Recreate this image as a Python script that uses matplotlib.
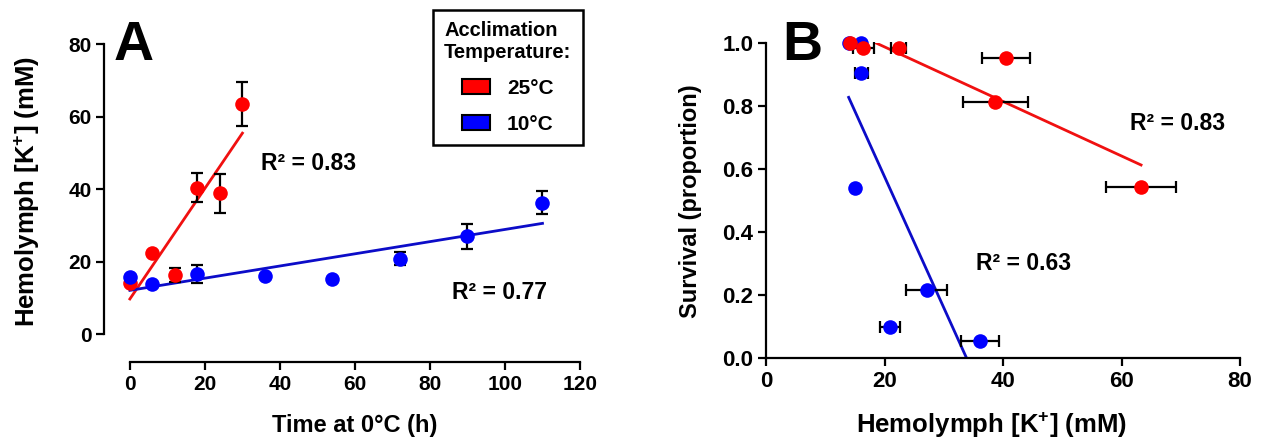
import numpy as np
import matplotlib
matplotlib.use("Agg")
import matplotlib.pyplot as plt
from matplotlib.patches import Patch

plt.rcParams['font.family'] = ['Liberation Sans', 'DejaVu Sans']
plt.rcParams['font.weight'] = 'bold'
plt.rcParams['mathtext.fontset'] = 'custom'
plt.rcParams['mathtext.rm'] = 'Liberation Sans:bold'
plt.rcParams['mathtext.bf'] = 'Liberation Sans:bold'
plt.rcParams['mathtext.default'] = 'bf'

# ---- Panel A data: hemolymph K+ vs time at 0 C ----
a_time_25 = [0, 6, 12, 18, 24, 30]
a_k_25 = [14.1, 22.3, 16.3, 40.4, 38.8, 63.4]
a_err_25 = [0, 0, 1.8, 3.9, 5.4, 6.0]

a_time_10 = [0, 6, 18, 36, 54, 72, 90, 110]
a_k_10 = [15.7, 13.8, 16.6, 16.1, 15.1, 20.8, 27.0, 36.2]
a_err_10 = [0, 0, 2.4, 0, 0, 1.8, 3.4, 3.2]

# ---- Panel B data: survival vs hemolymph K+ ----
b_k_25 = [14.2, 16.4, 22.4, 40.5, 38.7, 63.3]
b_surv_25 = [1.0, 0.984, 0.984, 0.952, 0.815, 0.543]
b_kerr_25 = [0, 1.8, 1.3, 4.0, 5.5, 5.9]

b_k_10 = [13.95, 16.1, 16.1, 15.1, 27.1, 20.9, 36.1]
b_surv_10 = [1.0, 1.0, 0.905, 0.540, 0.217, 0.098, 0.055]
b_kerr_10 = [0, 0, 1.1, 0, 3.4, 1.7, 3.2]

a_xticks = [0, 20, 40, 60, 80, 100, 120]
a_yticks = [0, 20, 40, 60, 80]
b_xticks = [0, 20, 40, 60, 80]
b_yticks = [0.0, 0.2, 0.4, 0.6, 0.8, 1.0]

r2_labels = ['R² = 0.83', 'R² = 0.77', 'R² = 0.83', 'R² = 0.63']

RED = '#ff0000'
BLUE = '#0000ff'
RED_LINE = '#f01010'
BLUE_LINE = '#0c0cc8'

W, H = 1262, 442
fig = plt.figure(figsize=(W / 100, H / 100), dpi=100)

LABEL_FS = 17
HEMO_FS = 18.5
R2_FS = 16.5

def style_axes(ax, fs):
    for s in ['top', 'right']:
        ax.spines[s].set_visible(False)
    for s in ['left', 'bottom']:
        ax.spines[s].set_linewidth(1.6)
    ax.tick_params(width=1.6, length=5.5, labelsize=fs, direction='out')
    for lab in ax.get_xticklabels() + ax.get_yticklabels():
        lab.set_fontweight('bold')

def ebar(ax, x, y, xerr=None, yerr=None):
    x = np.asarray(x, float); y = np.asarray(y, float)
    err = np.asarray(xerr if xerr is not None else yerr, float)
    m = err > 0
    kw = dict(fmt='none', ecolor='black', elinewidth=1.6, capsize=4.5,
              capthick=1.6, zorder=3, clip_on=False)
    if xerr is not None:
        ax.errorbar(x[m], y[m], xerr=err[m], **kw)
    else:
        ax.errorbar(x[m], y[m], yerr=err[m], **kw)

# ================= Panel A =================
axA = fig.add_axes([104 / W, 1 - 362 / H, (580 - 104) / W, (362 - 44) / H])
axA.set_xlim(-6.9, 120)
axA.set_ylim(-7.7, 80)
axA.spines['bottom'].set_bounds(0, 120)
axA.spines['left'].set_bounds(0, 80)
axA.set_xticks(a_xticks)
axA.set_yticks(a_yticks)

for xs, ys, col in [(a_time_25, a_k_25, RED_LINE), (a_time_10, a_k_10, BLUE_LINE)]:
    p = np.polyfit(xs, ys, 1)
    xx = np.array([min(xs), max(xs)])
    axA.plot(xx, np.polyval(p, xx), color=col, lw=2.0, zorder=2)

ebar(axA, a_time_25, a_k_25, yerr=a_err_25)
ebar(axA, a_time_10, a_k_10, yerr=a_err_10)
axA.plot(a_time_25, a_k_25, 'o', color=RED, ms=10.5, mec='none', zorder=4, clip_on=False)
axA.plot(a_time_10, a_k_10, 'o', color=BLUE, ms=10.5, mec='none', zorder=5, clip_on=False)

axA.set_xlabel('Time at 0°C (h)', fontsize=LABEL_FS, fontweight='bold')
axA.set_ylabel(r'Hemolymph [K$^{+}$] (mM)', fontsize=HEMO_FS, fontweight='bold')
axA.xaxis.set_label_coords(0.527, -0.165)
axA.yaxis.set_label_coords(-0.13, 0.535)
style_axes(axA, 15)

axA.text(35, 47, r2_labels[0], fontsize=R2_FS, fontweight='bold', ha='left', va='center')
axA.text(86, 11.5, r2_labels[1], fontsize=R2_FS, fontweight='bold', ha='left', va='center')

fig.text(114 / W, 1 - 60 / H, 'A', fontsize=40, fontweight='bold', va='baseline', ha='left')

leg = axA.legend(handles=[Patch(facecolor=RED, edgecolor='black', linewidth=1.5, label='25°C'),
                          Patch(facecolor=BLUE, edgecolor='black', linewidth=1.5, label='10°C')],
                 title='Acclimation\nTemperature:', loc='upper right',
                 bbox_to_anchor=(583 / W, 1 - 10 / H), bbox_transform=fig.transFigure,
                 prop={'size': 15, 'weight': 'bold'}, title_fontproperties={'size': 14.5, 'weight': 'bold'},
                 frameon=True, fancybox=False, edgecolor='black', framealpha=1,
                 handlelength=1.35, handleheight=0.75, handletextpad=0.8, labelspacing=0.8,
                 borderpad=0.55, borderaxespad=0)
leg.get_frame().set_linewidth(1.8)
leg._legend_box.align = 'center'
for t in leg.get_texts():
    t.set_fontweight('bold')

# ================= Panel B =================
axB = fig.add_axes([766 / W, 1 - 358.3 / H, (1240 - 766) / W, 315 / H])
axB.set_xlim(0, 80)
axB.set_ylim(0, 1.0)
axB.set_xticks(b_xticks)
axB.set_yticks(b_yticks)
axB.set_yticklabels([f'{v:.1f}' for v in b_yticks])

for xs, ys, col in [(b_k_25, b_surv_25, RED_LINE), (b_k_10, b_surv_10, BLUE_LINE)]:
    p = np.polyfit(xs, ys, 1)
    xx = np.array([min(xs), max(xs)])
    axB.plot(xx, np.polyval(p, xx), color=col, lw=2.0, zorder=2)

ebar(axB, b_k_10, b_surv_10, xerr=b_kerr_10)
ebar(axB, b_k_25, b_surv_25, xerr=b_kerr_25)
axB.plot(b_k_10, b_surv_10, 'o', color=BLUE, ms=10.5, mec='none', zorder=4, clip_on=False)
axB.plot(b_k_25, b_surv_25, 'o', color=RED, ms=10.5, mec='none', zorder=5, clip_on=False)

axB.set_xlabel(r'Hemolymph [K$^{+}$] (mM)', fontsize=HEMO_FS, fontweight='bold')
axB.set_ylabel('Survival (proportion)', fontsize=LABEL_FS, fontweight='bold')
axB.xaxis.set_label_coords(0.475, -0.165)
axB.yaxis.set_label_coords(-0.135, 0.5)
style_axes(axB, 16)

axB.text(61.5, 0.745, r2_labels[2], fontsize=R2_FS, fontweight='bold', ha='left', va='center')
axB.text(35.5, 0.30, r2_labels[3], fontsize=R2_FS, fontweight='bold', ha='left', va='center')

fig.text(782 / W, 1 - 60 / H, 'B', fontsize=40, fontweight='bold', va='baseline', ha='left')

fig.savefig('out.png', dpi=100)
